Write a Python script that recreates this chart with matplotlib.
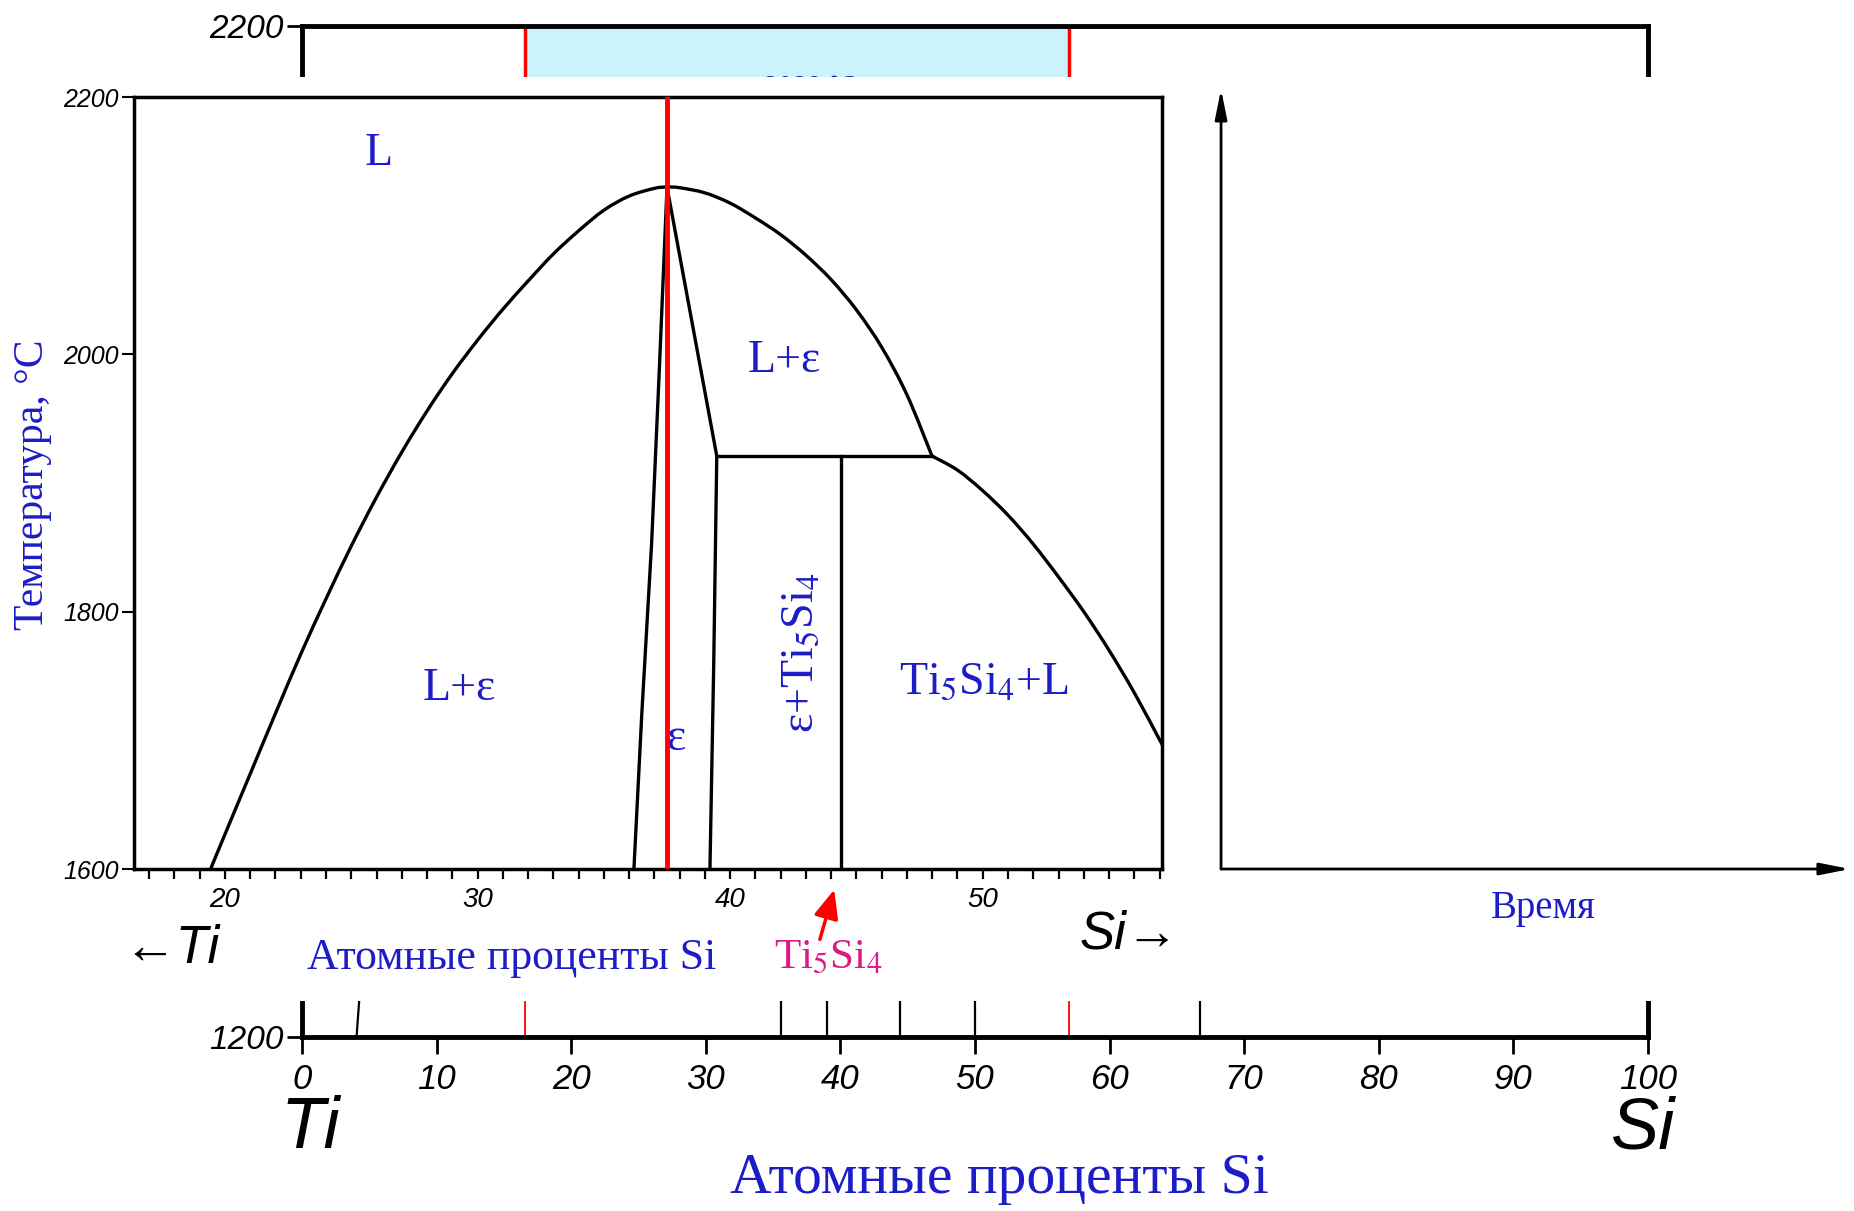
import numpy as np
import matplotlib
matplotlib.use('Agg')
import matplotlib.pyplot as plt
from matplotlib.patches import Rectangle, FancyArrowPatch, PathPatch
from matplotlib.path import Path

# --- Данные (ат.% Si, температура в °C) ---
# ликвидус слева от epsilon (Ti5Si3)
liq_left_x = [19.43, 20, 21, 22, 23, 24, 25, 26, 27, 28, 29, 30,
              31, 32, 33, 34, 35, 36, 37, 37.5]
liq_left_T = [1600, 1627, 1674, 1721, 1767, 1810, 1851, 1889, 1924, 1956, 1985, 2011,
              2035, 2057, 2078, 2096, 2112, 2123, 2129, 2130]
# ликвидус справа от максимума до перитектики
liq_right_x = [37.5, 38, 39, 40, 41, 42, 43, 44, 45, 46, 47, 47.99]
liq_right_T = [2130, 2129.5, 2125.5, 2117.5, 2106, 2093, 2077, 2058, 2034.5, 2005.5, 1968.5, 1921]
# ликвидус ниже перитектики (Ti5Si4 + L)
liq_low_x = [47.99, 49, 50, 51, 52, 53, 54, 55, 56, 57, 57.1]
liq_low_T = [1921, 1910, 1894, 1875, 1852.5, 1827, 1800, 1770, 1737, 1700.5, 1697]
# границы области epsilon
eps_left_x = [36.19, 36.5, 36.89, 37.2, 37.5]
eps_left_T = [1600, 1720, 1853, 1990, 2130]
eps_right_x = [37.5, 39.47, 39.35, 39.2]
eps_right_T = [2130, 1921, 1760, 1600]
# перитектика и Ti5Si4
perit_x = [39.47, 47.99]
perit_T = 1921
ti5si4_x = 44.4
ti5si4_T = [1600, 1921]
eps_comp = 37.5

# общая диаграмма (видна только сверху и снизу)
bg_lines_x = [35.6, 39.0, 44.4, 50.0, 66.7]
bg_slant_x = [4.05, 4.6]
bg_slant_T = [1200, 1300]
zoom_window = [16.6, 57.0]
bg_xticks = [0, 10, 20, 30, 40, 50, 60, 70, 80, 90, 100]
in_xticks = list(range(17, 58))

# --- Стиль ---
plt.rcParams.update({
    'font.family': ['Liberation Serif', 'DejaVu Serif'],
    'mathtext.fontset': 'stix',
})
sans = ['Liberation Sans', 'DejaVu Sans']
blue = '#1c1cc8'
magenta = '#dc1a82'
red = '#ff0000'
lightblue = '#ccf2fc'


def smooth_curve(xs, ys):
    # кривая Безье через прочитанные точки (Catmull-Rom)
    pts = np.column_stack([xs, ys]).astype(float)
    verts = [pts[0]]
    codes = [Path.MOVETO]
    n = len(pts)
    for i in range(n - 1):
        p0 = pts[i - 1] if i > 0 else pts[i]
        p1, p2 = pts[i], pts[i + 1]
        p3 = pts[i + 2] if i + 2 < n else pts[i + 1]
        verts += [p1 + (p2 - p0) / 6, p2 - (p3 - p1) / 6, p2]
        codes += [Path.CURVE4] * 3
    return Path(verts, codes)


fig = plt.figure(figsize=(18.54, 12.11), dpi=100)

# --- Фоновая диаграмма Ti-Si 0..100 ---
ax_bg = fig.add_axes([0.1629, 0.1437, 0.726, 0.8348])
ax_bg.set_xlim(0, 100)
ax_bg.set_ylim(1200, 2200)
for s in ax_bg.spines.values():
    s.set_linewidth(3.5)
ax_bg.add_patch(Rectangle((zoom_window[0], 2000), zoom_window[1] - zoom_window[0], 200,
                          fc=lightblue, ec=red, lw=2.5, zorder=1))
ax_bg.text(37.8, 2152, '2130 °C', color=blue, fontsize=19, fontweight='bold',
           family=sans, ha='center', va='top')
for x in bg_lines_x:
    ax_bg.plot([x, x], [1200, 1300], color='black', lw=1.6)
for x in zoom_window:
    ax_bg.plot([x, x], [1200, 1300], color=red, lw=1.3)
ax_bg.plot(bg_slant_x, bg_slant_T, color='black', lw=1.6)
ax_bg.set_xticks(bg_xticks)
ax_bg.set_xticklabels([str(v) for v in bg_xticks], fontsize=25, style='italic', family=sans)
ax_bg.set_yticks([1200, 2200])
ax_bg.set_yticklabels(['1200', '2200'], fontsize=24, style='italic', family=sans)
ax_bg.tick_params(axis='x', direction='out', length=12, width=2, pad=7)
ax_bg.tick_params(axis='y', direction='out', length=11, width=2, pad=2)

# белая подложка поверх середины
fig.add_artist(Rectangle((0, 0.1734), 1, 0.763, transform=fig.transFigure,
                         fc='white', ec='none', zorder=1))

# --- Увеличенный фрагмент ---
ax = fig.add_axes([0.0723, 0.2824, 0.5545, 0.6375])
ax.set_zorder(2)
ax.set_xlim(16.4, 57.1)
ax.set_ylim(1600, 2200)
for s in ax.spines.values():
    s.set_linewidth(2.5)

lw = 2.4
dome_x = liq_left_x + liq_right_x[1:]
dome_T = liq_left_T + liq_right_T[1:]
ax.add_patch(PathPatch(smooth_curve(dome_x, dome_T), fc='none', ec='black', lw=lw))
ax.add_patch(PathPatch(smooth_curve(liq_low_x, liq_low_T), fc='none', ec='black', lw=lw))
ax.plot(eps_left_x, eps_left_T, color='black', lw=lw)
ax.plot(eps_right_x, eps_right_T, color='black', lw=lw)
ax.plot(perit_x, [perit_T, perit_T], color='black', lw=lw)
ax.plot([ti5si4_x, ti5si4_x], ti5si4_T, color='black', lw=lw)
ax.axvline(eps_comp, color=red, lw=3.5, zorder=3)

ax.set_xticks(in_xticks)
ax.set_xticklabels([str(v) if v % 10 == 0 else '' for v in in_xticks],
                   fontsize=20, style='italic', family=sans)
ax.set_yticks([1600, 1800, 2000, 2200])
ax.set_yticklabels(['1600', '1800', '2000', '2200'], fontsize=18, style='italic', family=sans)
ax.tick_params(axis='x', direction='out', length=7, width=1.6, pad=6)
ax.tick_params(axis='y', direction='out', length=9, width=1.5, pad=2)

# подписи областей
fs = 33
ax.text(26.07, 2156, 'L', color=blue, fontsize=fs, ha='center', va='center')
ax.text(42.14, 1995, 'L+ε', color=blue, fontsize=fs, ha='center', va='center')
ax.text(29.27, 1740, 'L+ε', color=blue, fontsize=fs, ha='center', va='center')
ax.text(37.85, 1701, 'ε', color=blue, fontsize=33, ha='center', va='center', zorder=2)
ax.text(42.84, 1768, 'ε+Ti$_5$Si$_4$', color=blue, fontsize=fs, ha='center', va='center',
        rotation=90)
ax.text(50.05, 1745, 'Ti$_5$Si$_4$+L', color=blue, fontsize=fs, ha='center', va='center')

fig.text(0.0178, 0.5995, 'Температура, °С', color=blue, fontsize=30, rotation=90,
         ha='center', va='center')
fig.text(0.2762, 0.2089, 'Атомные проценты Si', color=blue, fontsize=31.5,
         ha='center', va='center')
fig.text(0.4466, 0.2089, 'Ti$_5$Si$_4$', color=magenta, fontsize=31, ha='center', va='center')
fig.text(0.0925, 0.2164, '←Ti', fontsize=38, style='italic', family=sans,
         ha='center', va='center')
fig.text(0.609, 0.2287, 'Si→', fontsize=38, style='italic', family=sans,
         ha='center', va='center')
fig.add_artist(FancyArrowPatch((0.4418, 0.2221), (0.4504, 0.2676), transform=fig.transFigure,
                               arrowstyle='-|>,head_length=0.7,head_width=0.3',
                               mutation_scale=25, color=red, lw=2.5, zorder=4))

# подписи фоновой диаграммы снизу
fig.text(0.1672, 0.0677, 'Ti', fontsize=52, style='italic', family=sans, ha='center', va='center')
fig.text(0.8865, 0.0677, 'Si', fontsize=52, style='italic', family=sans, ha='center', va='center')
fig.text(0.539, 0.0264, 'Атомные проценты Si', color=blue, fontsize=41.5,
         ha='center', va='center')

# --- Оси "Время" ---
ax_t = fig.add_axes([0.6586, 0.2824, 0.3392, 0.6441])
ax_t.set_zorder(2)
ax_t.set_xlim(0, 1)
ax_t.set_ylim(0, 1)
ax_t.axis('off')
arrow = dict(arrowstyle='-|>,head_length=1.0,head_width=0.2', lw=2, color='black',
             mutation_scale=18, shrinkA=0, shrinkB=0)
ax_t.annotate('', xy=(0, 1), xytext=(0, 0), arrowprops=arrow)
ax_t.annotate('', xy=(1, 0), xytext=(0, 0), arrowprops=arrow)
fig.text(0.8323, 0.2502, 'Время', color=blue, fontsize=28, ha='center', va='center')

fig.savefig('out.png', dpi=100)
